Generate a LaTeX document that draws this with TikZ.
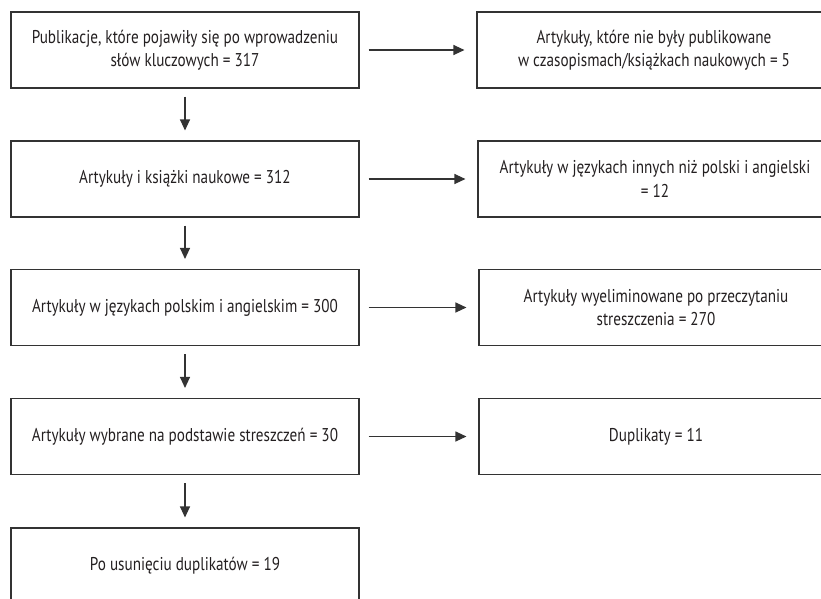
\documentclass[tikz,border=0pt]{standalone}
\usepackage{fontspec}
\setmainfont{PT Sans}[FakeStretch=0.82]
\usetikzlibrary{arrows.meta}
\definecolor{ln}{HTML}{333333}
\definecolor{tx}{HTML}{231F20}
\tikzset{
  box/.style={draw=ln, line width=1.1pt, rectangle, minimum height=76pt, inner sep=0pt, align=center, text=tx, font=\fontsize{18.5}{23.5}\selectfont},
  lbox/.style={box, minimum width=348pt},
  rbox/.style={box, minimum width=354pt},
  arr/.style={draw=ln, line width=1.1pt, -{Triangle[length=11pt,width=10pt]}}
}
\begin{document}
\begin{tikzpicture}[x=1pt,y=1pt]
\useasboundingbox (0,0) rectangle (821,-598);
\clip (0,0) rectangle (821,-598);
\node[lbox] (b1) at (185,-50) {Publikacje, które pojawiły się po wprowadzeniu\\słów kluczowych = 317};
\node[lbox] (b2) at (185,-179) {Artykuły i książki naukowe = 312};
\node[lbox] (b3) at (185,-307.5) {Artykuły w językach polskim i angielskim = 300};
\node[lbox] (b4) at (185,-436.5) {Artykuły wybrane na podstawie streszczeń = 30};
\node[lbox] (b5) at (185,-566) {Po usunięciu duplikatów = 19};
\node[rbox] (r1) at (654,-50) {Artykuły, które nie były publikowane\\w czasopismach/książkach naukowych = 5};
\node[rbox] (r2) at (655,-179) {Artykuły w językach innych niż polski i angielski\\= 12};
\node[rbox] (r3) at (656,-307.5) {Artykuły wyeliminowane po przeczytaniu\\streszczenia = 270};
\node[rbox] (r4) at (656,-436.5) {Duplikaty = 11};
\foreach \i in {1,2,3,4}{
  \draw[arr] ([xshift=9pt]b\i.east) -- ([xshift=-12pt]r\i.west |- b\i.east);
}
\foreach \i/\j in {1/2,2/3,3/4,4/5}{
  \draw[arr] ([yshift=-8pt]b\i.south) -- ([yshift=10pt]b\j.north);
}
\end{tikzpicture}
\end{document}
